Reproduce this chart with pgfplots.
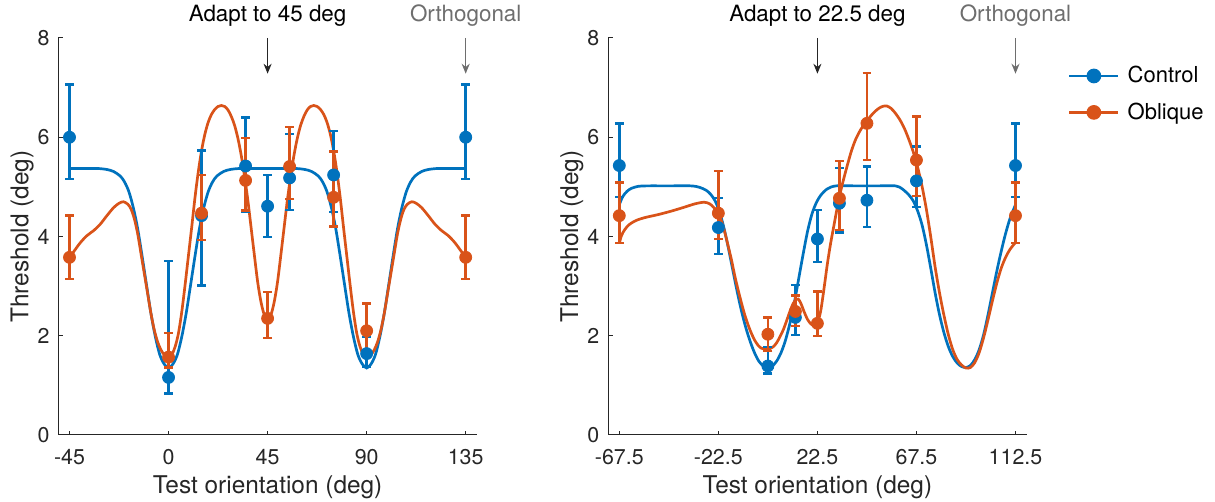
\documentclass[border=0pt]{standalone}
\usepackage{pgfplots}
\pgfplotsset{compat=1.18}
\usepackage{pgfplotstable}
\usepackage{fontspec}
\setmainfont{TeX Gyre Heros}
\usetikzlibrary{arrows.meta}
\definecolor{mblue}{rgb}{0,0.447,0.741}
\definecolor{morange}{rgb}{0.85,0.325,0.098}
\definecolor{axgray}{HTML}{262626}
\definecolor{orthgray}{HTML}{6E6E6E}

\pgfplotstableread{
x y ep em
-45 6.00 1.06 0.84
0 1.16 2.35 0.32
15 4.42 1.31 1.41
35 5.42 0.98 0.92
45 4.61 0.63 0.62
55 5.18 0.88 0.65
75 5.24 0.88 0.75
90 1.64 0.34 0.26
135 6.00 1.06 0.84
}\LB
\pgfplotstableread{
x y ep em
-45 3.58 0.84 0.44
0 1.57 0.48 0.21
15 4.47 0.77 0.54
35 5.13 0.85 0.61
45 2.35 0.53 0.40
55 5.41 0.80 0.65
75 4.79 0.92 0.59
90 2.10 0.55 0.42
135 3.58 0.84 0.44
}\LO
\pgfplotstableread{
x y ep em
-67.5 5.43 0.85 0.64
-22.5 4.18 0.59 0.53
0 1.39 0.38 0.15
12.5 2.37 0.65 0.35
22.5 3.95 0.58 0.47
32.5 4.67 0.71 0.59
45 4.73 0.68 0.54
67.5 5.12 0.69 0.53
112.5 5.43 0.85 0.64
}\RB
\pgfplotstableread{
x y ep em
-67.5 4.42 0.67 0.55
-22.5 4.47 0.85 0.52
0 2.03 0.34 0.34
12.5 2.49 0.32 0.29
22.5 2.25 0.64 0.25
32.5 4.77 0.75 0.64
45 6.28 1.01 0.74
67.5 5.54 0.88 0.72
112.5 4.42 0.67 0.55
}\RO

\pgfplotsset{
 mystyle/.style={
  scale only axis, width=209.1pt, height=198.5pt,
  anchor=south west,
  ymin=0, ymax=8, ytick={0,2,4,6,8}, yticklabels={0,2,4,6,8},
  axis x line*=bottom, axis y line*=left,
  axis line style={draw=axgray, line width=0.5pt},
  major tick style={draw=axgray, line width=0.5pt},
  major tick length=2.2pt, tick align=inside,
  ticklabel style={font=\fontsize{10.7}{12}\selectfont, text=axgray},
  xticklabel style={yshift=-3.5pt},
  yticklabel style={xshift=-1pt},
  label style={font=\fontsize{12.2}{14}\selectfont, text=axgray},
  xlabel={Test orientation (deg)}, ylabel={Threshold (deg)},
  xlabel style={at={(axis description cs:0.5,-0.131)}, anchor=center},
  ylabel style={at={(axis description cs:-0.087,0.5)}, anchor=center},
  clip=false,
 },
 curve/.style={line width=1.35pt, smooth, no marks, forget plot},
 pts/.style={only marks, mark=*, mark size=3pt, forget plot,
   mark options={draw=#1, fill=#1},
   error bars/.cd, y dir=both, y explicit, error mark=|,
   error bar style={line width=1.2pt, #1},
   error mark options={line width=1.2pt, #1, mark size=2.2pt}},
}

\begin{document}
\begin{tikzpicture}
\useasboundingbox (0,0) rectangle (607.5pt,251pt);

% ---------------- left panel ----------------
\begin{axis}[mystyle, at={(29.25pt,33.5pt)},
  xmin=-50, xmax=140, xtick={-45,0,45,90,135}, xticklabels={-45,0,45,90,135}]
\addplot[curve, mblue] coordinates {
(-45,5.37) (-40,5.37) (-36,5.37) (-32,5.37) (-28,5.35) (-25,5.31) (-22,5.22) (-20,5.10) (-18,4.90) (-16,4.58) (-14,4.15) (-12,3.60) (-10,3.02) (-8,2.45) (-6,1.98) (-4,1.62) (-2,1.43) (0,1.35) (2,1.43) (4,1.62) (6,1.98) (8,2.45) (10,3.02) (12,3.60) (14,4.15) (16,4.58) (18,4.90) (20,5.10) (22,5.22) (25,5.31) (28,5.35) (32,5.37) (38,5.37) (45,5.37) (52,5.37) (58,5.37) (62,5.35) (65,5.31) (68,5.22) (70,5.10) (72,4.90) (74,4.58) (76,4.15) (78,3.60) (80,3.02) (82,2.45) (84,1.98) (86,1.62) (88,1.43) (90,1.35) (92,1.43) (94,1.62) (96,1.98) (98,2.45) (100,3.02) (102,3.60) (104,4.15) (106,4.58) (108,4.90) (110,5.10) (112,5.22) (115,5.31) (118,5.35) (122,5.37) (126,5.37) (130,5.37) (135,5.37)};
\addplot[curve, morange] coordinates {
(-45,3.58) (-43,3.70) (-40,3.88) (-37,4.02) (-34,4.12) (-31,4.25) (-28,4.42) (-25,4.58) (-22.5,4.67) (-20.5,4.70) (-18.5,4.65) (-17,4.55) (-15.5,4.35) (-14,4.05) (-12.5,3.65) (-11,3.25) (-9.5,2.85) (-8,2.45) (-6.5,2.12) (-5,1.88) (-3.5,1.72) (-2,1.62) (0,1.57) (1.5,1.62) (3,1.78) (4.5,2.05) (6,2.48) (7.5,3.02) (9,3.60) (10.5,4.18) (12,4.78) (13.5,5.30) (15,5.73) (16.5,6.06) (18,6.30) (19.5,6.46) (21,6.56) (22.5,6.62) (24,6.64) (25.5,6.62) (27,6.55) (28.5,6.42) (30,6.24) (31.5,5.98) (33,5.64) (34.5,5.22) (36,4.74) (37.5,4.18) (39,3.62) (40.5,3.08) (42,2.68) (43.5,2.42) (45,2.33)
(46.5,2.42) (48,2.68) (49.5,3.08) (51,3.62) (52.5,4.18) (54,4.74) (55.5,5.22) (57,5.64) (58.5,5.98) (60,6.24) (61.5,6.42) (63,6.55) (64.5,6.62) (66,6.64) (67.5,6.62) (69,6.56) (70.5,6.46) (72,6.30) (73.5,6.06) (75,5.73) (76.5,5.30) (78,4.78) (79.5,4.18) (81,3.60) (82.5,3.02) (84,2.48) (85.5,2.05) (87,1.78) (88.5,1.62) (90,1.57) (92,1.62) (93.5,1.72) (95,1.88) (96.5,2.12) (98,2.45) (99.5,2.85) (101,3.25) (102.5,3.65) (104,4.05) (105.5,4.35) (107,4.55) (108.5,4.65) (110.5,4.70) (112.5,4.67) (115,4.58) (118,4.42) (121,4.25) (124,4.12) (127,4.02) (130,3.88) (133,3.70) (135,3.58)};
\addplot[pts=mblue] table[x=x, y=y, y error plus=ep, y error minus=em] {\LB};
\addplot[pts=morange] table[x=x, y=y, y error plus=ep, y error minus=em] {\LO};
\node[font=\fontsize{11.2}{13}\selectfont, text=black] at (axis cs:45,8.45) {Adapt to 45 deg};
\node[font=\fontsize{11.2}{13}\selectfont, text=orthgray] at (axis cs:135,8.45) {Orthogonal};
\draw[axgray, line width=0.6pt, -{Stealth[length=5pt,width=4pt]}] (axis cs:45,8.0) -- (axis cs:45,7.28);
\draw[orthgray, line width=0.6pt, -{Stealth[length=5pt,width=4pt]}] (axis cs:135,8.0) -- (axis cs:135,7.28);
\end{axis}

% ---------------- right panel ----------------
\begin{axis}[mystyle, at={(304.15pt,33.5pt)},
  xmin=-72.5, xmax=117.5, xtick={-67.5,-22.5,22.5,67.5,112.5},
  xticklabels={-67.5,-22.5,22.5,67.5,112.5},
  legend style={draw=none, fill=none, at={(axis description cs:1.084,0.95)}, anchor=north west,
    font=\fontsize{11}{13}\selectfont, text=black, row sep=4.5pt},
  legend cell align=left,
  legend image code/.code={\draw[#1] (0pt,0pt) -- (24.5pt,0pt); \draw[#1] plot coordinates {(12.25pt,0pt)}; \path (26.5pt,0pt);}]
\addplot[curve, mblue] coordinates {
(-67.5,4.64) (-66,4.80) (-64,4.91) (-62,4.97) (-59,5.01) (-55,5.02) (-45,5.02) (-35,5.02) (-31,4.99) (-28,4.93) (-26,4.85) (-24,4.72) (-22,4.50) (-20,4.18) (-18,3.78) (-16,3.34) (-14,2.90) (-12,2.50) (-10,2.16) (-8,1.88) (-6,1.65) (-4,1.48) (-2,1.39) (0,1.36) (2,1.39) (4,1.49) (6,1.66) (8,1.91) (10,2.25) (12,2.66) (14,3.15) (16,3.64) (18,4.10) (20,4.45) (22,4.68) (24,4.83) (27,4.96) (31,5.02) (40,5.02) (50,5.02) (58,5.02) (61,4.96) (64,4.84) (66,4.72) (68,4.52) (70,4.24) (72,3.84) (74,3.36) (76,2.86) (78,2.42) (80,2.06) (82,1.78) (84,1.58) (86,1.45) (88,1.38) (90,1.36) (92,1.40) (94,1.52) (96,1.72) (98,2.02) (100,2.42) (102,2.86) (104,3.30) (106,3.70) (108,4.06) (110,4.36) (112.5,4.64)};
\addplot[curve, morange] coordinates {
(-67.5,3.86) (-66.5,4.02) (-65,4.14) (-63,4.24) (-60,4.32) (-56,4.38) (-50,4.44) (-44,4.51) (-38,4.59) (-33,4.66) (-29,4.69) (-26.5,4.66) (-24.5,4.58) (-22.5,4.45) (-21,4.30) (-19.5,4.07) (-18,3.80) (-16.5,3.52) (-15,3.20) (-13.5,2.92) (-12,2.66) (-10.5,2.42) (-9,2.22) (-7.5,2.05) (-6,1.91) (-4.5,1.81) (-3,1.75) (-1,1.73) (1,1.74) (2.5,1.78) (4,1.86) (5.5,1.98) (7,2.12) (8.5,2.30) (10,2.49) (11.5,2.65) (12.8,2.73) (13.8,2.74) (15,2.65) (16.5,2.48) (18,2.33) (19.5,2.24) (21,2.21) (22.5,2.26) (24,2.50) (25.5,2.95) (27,3.44) (28.5,3.86) (30,4.22) (31.5,4.58) (33,4.90) (34.5,5.17) (36,5.42) (38,5.73) (40,5.97) (42,6.14) (44,6.28) (46,6.39) (48,6.49) (50,6.57) (52,6.62) (54,6.63) (56,6.58) (58,6.48) (60,6.35) (62,6.18) (64,5.96) (66,5.71) (68,5.40) (70,5.02) (72,4.55) (74,3.99) (76,3.38) (78,2.86) (80,2.41) (82,2.02) (84,1.72) (86,1.52) (88,1.41) (90,1.35) (92,1.36) (94,1.46) (96,1.66) (98,1.96) (100,2.32) (102,2.70) (104,3.06) (106,3.36) (108,3.58) (110,3.74) (112.5,3.88)};
\addplot[pts=mblue] table[x=x, y=y, y error plus=ep, y error minus=em] {\RB};
\addplot[pts=morange] table[x=x, y=y, y error plus=ep, y error minus=em] {\RO};
\node[font=\fontsize{11.2}{13}\selectfont, text=black] at (axis cs:22.5,8.45) {Adapt to 22.5 deg};
\node[font=\fontsize{11.2}{13}\selectfont, text=orthgray] at (axis cs:112.5,8.45) {Orthogonal};
\draw[axgray, line width=0.6pt, -{Stealth[length=5pt,width=4pt]}] (axis cs:22.5,8.0) -- (axis cs:22.5,7.28);
\draw[orthgray, line width=0.6pt, -{Stealth[length=5pt,width=4pt]}] (axis cs:112.5,8.0) -- (axis cs:112.5,7.28);
\addlegendimage{mblue, line width=1.35pt, mark=*, mark size=3pt, mark options={fill=mblue}}
\addlegendentry{Control}
\addlegendimage{morange, line width=1.35pt, mark=*, mark size=3pt, mark options={fill=morange}}
\addlegendentry{Oblique}
\end{axis}
\end{tikzpicture}
\end{document}
